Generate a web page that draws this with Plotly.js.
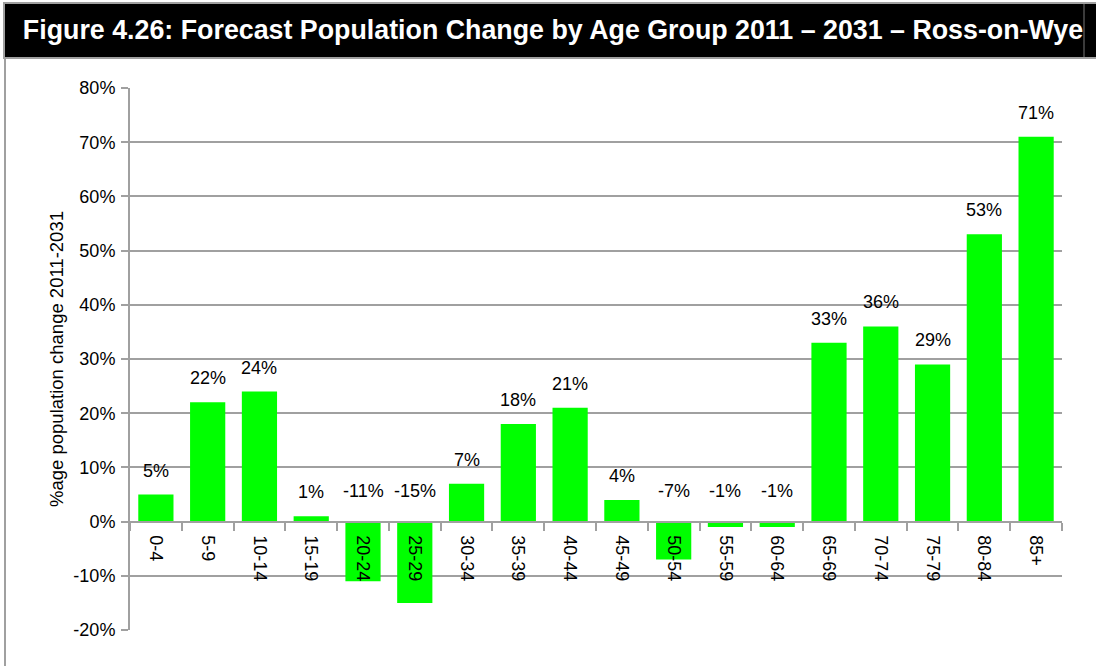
<!DOCTYPE html>
<html>
<head>
<meta charset="utf-8">
<script src="https://cdn.plot.ly/plotly-3.0.1.min.js"></script>
<style>
  html, body { margin: 0; padding: 0; background: #ffffff; }
  #chart { width: 1096px; height: 666px; }
</style>
</head>
<body>
<div id="chart"></div>
<script>
const categories = ["0-4","5-9","10-14","15-19","20-24","25-29","30-34","35-39","40-44","45-49","50-54","55-59","60-64","65-69","70-74","75-79","80-84","85+"];
const changePct = [5,22,24,1,-11,-15,7,18,21,4,-7,-1,-1,33,36,29,53,71];
const yTickVals = [-20,-10,0,10,20,30,40,50,60,70,80];
const titleText = "Figure 4.26: Forecast Population Change by Age Group 2011 \u2013 2031 \u2013 Ross-on-Wye";
const yTitleText = "%age population change 2011-2031";

const W = 1096, H = 666;
const M = {l: 130, r: 34, t: 88, b: 36};
const pw = W - M.l - M.r, ph = H - M.t - M.b;
const px = v => (v - M.l) / pw;            // pixel x -> paper x
const py = v => (H - M.b - v) / ph;        // pixel y -> paper y

const FONT = '"Liberation Sans", Arial, sans-serif';
const FS = 18;
const GRAY = '#a0a0a0';

const trace = {
  type: 'bar',
  x: categories,
  y: changePct,
  marker: {color: '#00ff00', line: {width: 0}},
  hoverinfo: 'x+y'
};

const labels = categories.map((c, i) => ({
  xref: 'x', yref: 'y',
  x: c, y: Math.max(changePct[i], 0),
  text: changePct[i] + '%',
  showarrow: false,
  yanchor: 'middle',
  yshift: changePct[i] >= 0 ? 24 : 31,
  font: {family: FONT, size: FS, color: '#000000'}
}));

const yMin = yTickVals[0], yMax = yTickVals[yTickVals.length - 1];

const layout = {
  width: W, height: H,
  margin: M,
  paper_bgcolor: '#ffffff',
  plot_bgcolor: '#ffffff',
  showlegend: false,
  bargap: 0.32,
  title: {
    text: '<b>' + titleText + '</b>',
    font: {family: '"Liberation Sans", Arial, sans-serif', size: 26.8, color: '#ffffff'},
    x: 553 / W, xanchor: 'center', xref: 'container',
    y: 1 - 30 / H, yanchor: 'middle', yref: 'container'
  },
  xaxis: {
    type: 'category',
    anchor: 'free',
    position: (0 - yMin) / (yMax - yMin),
    showline: true, linecolor: GRAY, linewidth: 2,
    ticks: 'outside', tickson: 'boundaries', ticklen: 8, tickwidth: 2, tickcolor: GRAY,
    tickangle: 90,
    ticklabelstandoff: 9,
    tickfont: {family: FONT, size: FS, color: '#000000'},
    showgrid: false, zeroline: false,
    fixedrange: true
  },
  yaxis: {
    range: [yMin, yMax],
    tickvals: yTickVals,
    ticktext: yTickVals.map(v => v + '%'),
    showline: true, linecolor: GRAY, linewidth: 2,
    ticks: 'outside', ticklen: 7, tickwidth: 2, tickcolor: GRAY,
    ticklabelstandoff: 2,
    showgrid: true, gridcolor: GRAY, gridwidth: 2,
    zeroline: true, zerolinecolor: GRAY, zerolinewidth: 2,
    tickfont: {family: FONT, size: FS, color: '#000000'},
    title: {text: yTitleText, font: {family: FONT, size: 18.5, color: '#000000'}, standoff: 5},
    fixedrange: true
  },
  annotations: labels,
  shapes: [
    {type: 'rect', xref: 'paper', yref: 'paper', layer: 'below',
     x0: px(4), x1: px(W + 2), y0: py(58), y1: py(3),
     fillcolor: '#000000', line: {color: GRAY, width: 2}},
    {type: 'line', xref: 'paper', yref: 'paper', layer: 'above',
     x0: px(5), x1: px(5), y0: py(58), y1: py(H + 2),
     line: {color: GRAY, width: 2}},
    {type: 'line', xref: 'paper', yref: 'paper', layer: 'above',
     x0: px(1084), x1: px(1084), y0: py(4), y1: py(57),
     line: {color: '#777777', width: 1}}
  ]
};

Plotly.newPlot('chart', [trace], layout, {displayModeBar: false, staticPlot: true});
</script>
</body>
</html>
